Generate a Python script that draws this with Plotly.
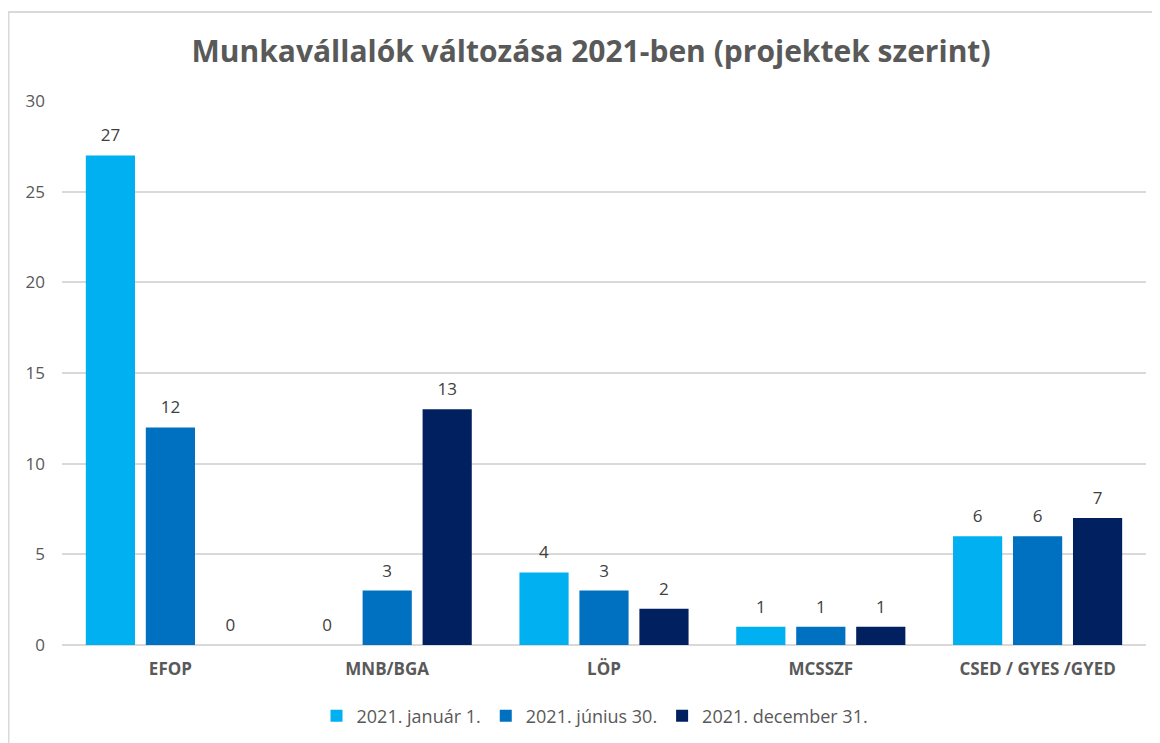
import plotly.graph_objects as go

categories = ["EFOP", "MNB/BGA", "LÖP", "MCSSZF", "CSED / GYES /GYED"]
series_names = ["2021. január 1.", "2021. június 30.", "2021. december 31."]
jan = [27, 0, 4, 1, 6]
jun = [12, 3, 3, 1, 6]
dec = [0, 13, 2, 1, 7]
colors = ["#00B0F0", "#0070C0", "#002060"]

FONT = "'Open Sans', Lato, sans-serif"
GREY = "#595959"

# page body has an 8px margin: figure drawn from (8, 8) of the screen
OFF = 8
W, H = 1160 - OFF, 743 - OFF
# screen coordinates of plot area
SL, SR, ST, SB = 62, 1146, 101, 645
L, R, T, B = SL - OFF, W - (SR - OFF), ST - OFF, H - (SB - OFF)
pw, ph = W - L - R, H - T - B


def px(x):
    return (x - OFF - L) / pw


def py(y):
    return (SB - y) / ph


fig = go.Figure()
for name, vals, col in zip(series_names, [jan, jun, dec], colors):
    fig.add_trace(go.Bar(
        x=[f"<b>{c}</b>" for c in categories], y=vals, name=name,
        marker=dict(color=col, line=dict(width=0)),
        text=[f"<span style='font-size:17px'>{v}</span><br>&nbsp;" for v in vals],
        textposition="outside", constraintext="none",
        textfont=dict(size=7, color="#404040", family=FONT),
        cliponaxis=False,
    ))

fig.update_layout(
    width=W, height=H,
    margin=dict(l=L, r=R, t=T, b=B, autoexpand=False),
    paper_bgcolor="white", plot_bgcolor="white",
    font=dict(family=FONT, color=GREY),
    title=dict(text="<b>Munkavállalók változása 2021-ben (projektek szerint)</b>",
               x=(591 - OFF) / W, xref="container", xanchor="center",
               y=1 - (51 - OFF) / H, yref="container", yanchor="middle",
               font=dict(size=30, color=GREY, family=FONT)),
    barmode="group", bargap=0.17, bargroupgap=0.18,
    legend=dict(orientation="h", x=px(595), xanchor="center", y=py(716), yanchor="middle",
                font=dict(size=18, color=GREY, family=FONT), itemwidth=30,
                traceorder="normal"),
    xaxis=dict(showgrid=False, showline=False, ticks="", tickfont=dict(size=17, color=GREY),
               ticklabelstandoff=12),
    yaxis=dict(range=[0, 30], dtick=5, showgrid=True, gridcolor="#D9D9D9", gridwidth=1.5,
               zeroline=True, zerolinecolor="#D9D9D9", zerolinewidth=1.5,
               showline=False, ticks="", tickfont=dict(size=17, color=GREY),
               ticklabelstandoff=16),
    shapes=[
        dict(type="line", xref="paper", yref="paper", x0=px(8.5), x1=px(8.5), y0=py(12), y1=py(743 + 5),
             line=dict(color="#D9D9D9", width=2)),
        dict(type="line", xref="paper", yref="paper", x0=px(8), x1=px(1160 + 5), y0=py(12), y1=py(12),
             line=dict(color="#D9D9D9", width=2)),
    ],
)

fig.write_html("out.html")
